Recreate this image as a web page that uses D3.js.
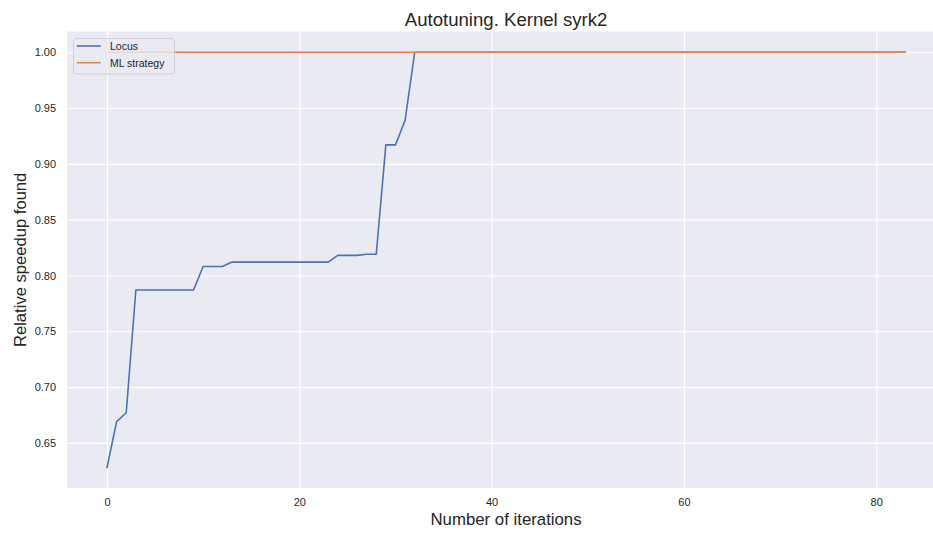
<!DOCTYPE html>
<html>
<head>
<meta charset="utf-8">
<script src="https://cdn.jsdelivr.net/npm/d3@7"></script>
<style>
html,body{margin:0;padding:0;background:#fff;}
svg{display:block;font-family:"Liberation Sans",Arial,sans-serif;}
</style>
</head>
<body>
<svg id="chart" width="933" height="534"></svg>
<script>
const title = "Autotuning. Kernel syrk2";
const xLabel = "Number of iterations";
const yLabel = "Relative speedup found";
const seriesNames = ["Locus", "ML strategy"];
const seriesColors = ["#4c72b0", "#dd8452"];
const xTicks = [0, 20, 40, 60, 80];
const yTicks = [0.65, 0.70, 0.75, 0.80, 0.85, 0.90, 0.95, 1.00];
const locus = [
  0.628, 0.669, 0.677, 0.787, 0.787, 0.787, 0.787, 0.787, 0.787, 0.787,
  0.808, 0.808, 0.808, 0.812, 0.812, 0.812, 0.812, 0.812, 0.812, 0.812,
  0.812, 0.812, 0.812, 0.812, 0.818, 0.818, 0.818, 0.819, 0.819, 0.917,
  0.917, 0.939, 1.0, 1.0, 1.0, 1.0, 1.0, 1.0, 1.0, 1.0,
  1.0, 1.0, 1.0, 1.0, 1.0, 1.0, 1.0, 1.0, 1.0, 1.0,
  1.0, 1.0, 1.0, 1.0, 1.0, 1.0, 1.0, 1.0, 1.0, 1.0,
  1.0, 1.0, 1.0, 1.0, 1.0, 1.0, 1.0, 1.0, 1.0, 1.0,
  1.0, 1.0, 1.0, 1.0, 1.0, 1.0, 1.0, 1.0, 1.0, 1.0,
  1.0, 1.0, 1.0, 1.0
];
const mlStrategy = [
  1.0, 1.0, 1.0, 1.0, 1.0, 1.0, 1.0, 1.0, 1.0, 1.0,
  1.0, 1.0, 1.0, 1.0, 1.0, 1.0, 1.0, 1.0, 1.0, 1.0,
  1.0, 1.0, 1.0, 1.0, 1.0, 1.0, 1.0, 1.0, 1.0, 1.0,
  1.0, 1.0, 1.0, 1.0, 1.0, 1.0, 1.0, 1.0, 1.0, 1.0,
  1.0, 1.0, 1.0, 1.0, 1.0, 1.0, 1.0, 1.0, 1.0, 1.0,
  1.0, 1.0, 1.0, 1.0, 1.0, 1.0, 1.0, 1.0, 1.0, 1.0,
  1.0, 1.0, 1.0, 1.0, 1.0, 1.0, 1.0, 1.0, 1.0, 1.0,
  1.0, 1.0, 1.0, 1.0, 1.0, 1.0, 1.0, 1.0, 1.0, 1.0,
  1.0, 1.0, 1.0, 1.0
];

const svg = d3.select("#chart");
const plot = {left: 67.1, right: 945, top: 31.5, bottom: 488.2};

const series = [locus, mlStrategy];
const n = locus.length;
const xMin = 0, xMax = n - 1;
const xPad = (xMax - xMin) * 0.05;
const allVals = locus.concat(mlStrategy);
const yMin = d3.min(allVals), yMax = d3.max(allVals);
const yPad = (yMax - yMin) * 0.05;

const x = d3.scaleLinear().domain([xMin - xPad, xMax + xPad]).range([plot.left, plot.right]);
const y = d3.scaleLinear().domain([yMin - yPad, yMax + yPad]).range([plot.bottom, plot.top]);

svg.append("defs").append("clipPath").attr("id", "clip")
  .append("rect").attr("x", plot.left).attr("y", plot.top)
  .attr("width", plot.right - plot.left).attr("height", plot.bottom - plot.top);

svg.append("rect")
  .attr("x", plot.left).attr("y", plot.top)
  .attr("width", plot.right - plot.left).attr("height", plot.bottom - plot.top)
  .attr("fill", "#eaeaf2");

// grid
const gx = svg.append("g").attr("transform", `translate(0,${plot.bottom})`)
  .call(d3.axisBottom(x).tickValues(xTicks).tickSize(-(plot.bottom - plot.top)).tickPadding(10).tickFormat(d3.format("d")));
const gy = svg.append("g").attr("transform", `translate(${plot.left},0)`)
  .call(d3.axisLeft(y).tickValues(yTicks).tickSize(-(plot.right - plot.left)).tickPadding(11).tickFormat(d3.format(".2f")));
[gx, gy].forEach(g => {
  g.select(".domain").remove();
  g.selectAll(".tick line").attr("stroke", "#ffffff").attr("stroke-width", 1.1);
  g.selectAll(".tick text").attr("fill", "#262626").attr("font-size", "11px")
    .attr("font-family", "'Liberation Sans', Arial, sans-serif");
});

const line = d3.line().x((d, i) => x(i)).y(d => y(d));
const lines = svg.append("g").attr("clip-path", "url(#clip)");
series.forEach((s, k) => {
  lines.append("path").datum(s)
    .attr("fill", "none")
    .attr("stroke", seriesColors[k])
    .attr("stroke-width", 1.6)
    .attr("stroke-linejoin", "round")
    .attr("stroke-linecap", "square")
    .attr("d", line);
});

// title & labels
const cx = (plot.left + plot.right) / 2;
svg.append("text").attr("x", cx).attr("y", 25.5).attr("text-anchor", "middle")
  .attr("font-size", "18.6px").attr("fill", "#262626").text(title);
svg.append("text").attr("x", cx).attr("y", 525).attr("text-anchor", "middle")
  .attr("font-size", "16.8px").attr("fill", "#262626").text(xLabel);
svg.append("text")
  .attr("transform", `translate(26,${(plot.top + plot.bottom) / 2}) rotate(-90)`)
  .attr("text-anchor", "middle").attr("font-size", "16.6px").attr("fill", "#262626").text(yLabel);

// legend
const lg = svg.append("g").attr("transform", "translate(73.5,38.5)");
lg.append("rect").attr("width", 101).attr("height", 35.5).attr("rx", 2.5)
  .attr("fill", "#eaeaf2").attr("fill-opacity", 0.8)
  .attr("stroke", "#cccccc").attr("stroke-opacity", 0.8).attr("stroke-width", 1);
seriesNames.forEach((name, k) => {
  const yy = 7.5 + k * 16.7;
  lg.append("line").attr("x1", 3.2).attr("x2", 27.2).attr("y1", yy).attr("y2", yy)
    .attr("stroke", seriesColors[k]).attr("stroke-width", 1.6);
  lg.append("text").attr("x", 36.5).attr("y", yy + 3.8)
    .attr("font-size", "10.5px").attr("fill", "#262626").text(name);
});
</script>
</body>
</html>
